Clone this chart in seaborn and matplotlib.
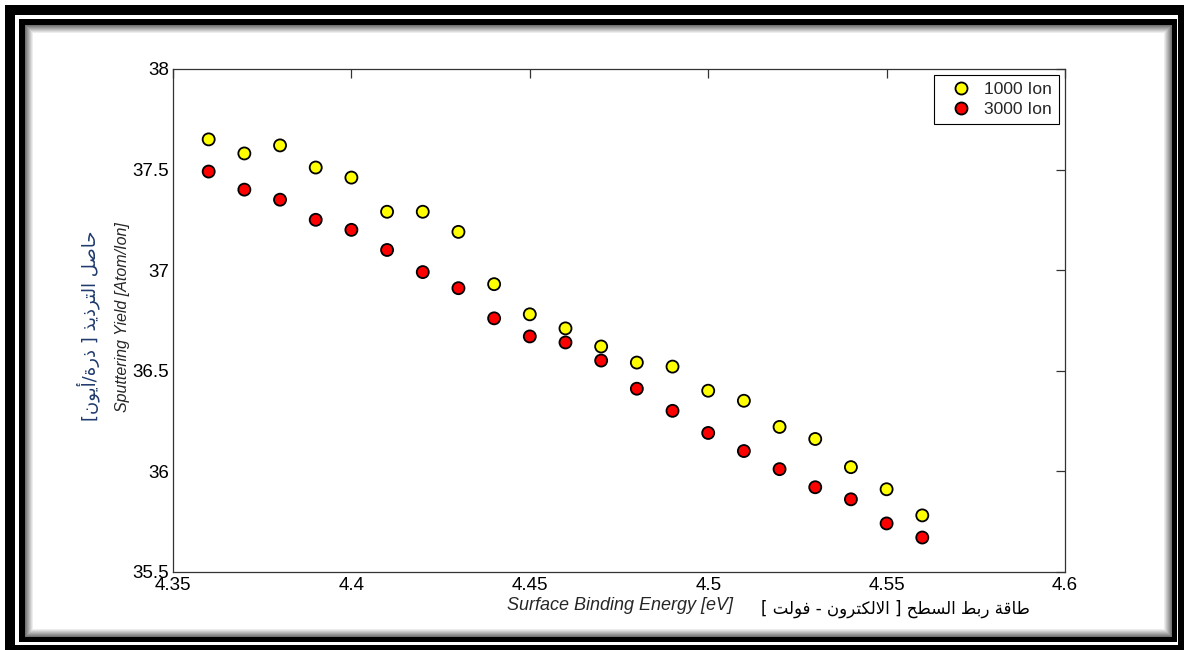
import numpy as np
import pandas as pd
import seaborn as sns
import matplotlib.pyplot as plt
from matplotlib.patches import Rectangle

# data
energy = [4.36, 4.37, 4.38, 4.39, 4.40, 4.41, 4.42, 4.43, 4.44, 4.45, 4.46,
          4.47, 4.48, 4.49, 4.50, 4.51, 4.52, 4.53, 4.54, 4.55, 4.56]
yield_1000 = [37.65, 37.58, 37.62, 37.51, 37.46, 37.29, 37.29, 37.19, 36.93, 36.78, 36.71,
              36.62, 36.54, 36.52, 36.40, 36.35, 36.22, 36.16, 36.02, 35.91, 35.78]
yield_3000 = [37.49, 37.40, 37.35, 37.25, 37.20, 37.10, 36.99, 36.91, 36.76, 36.67, 36.64,
              36.55, 36.41, 36.30, 36.19, 36.10, 36.01, 35.92, 35.86, 35.74, 35.67]
series_names = ['1000 Ion', '3000 Ion']
x_ticks = [4.35, 4.4, 4.45, 4.5, 4.55, 4.6]
x_tick_labels = ['4.35', '4.4', '4.45', '4.5', '4.55', '4.6']
y_ticks = [35.5, 36, 36.5, 37, 37.5, 38]
y_tick_labels = ['35.5', '36', '36.5', '37', '37.5', '38']

xlabel_en = 'Surface Binding Energy [eV]'
xlabel_ar = 'طاقة ربط السطح [ الالكترون - فولت ]'
ylabel_en = 'Sputtering Yield [Atom/Ion]'
ylabel_ar = 'حاصل الترذيذ [ ذرة/أيون]'

# matplotlib has no arabic shaping: pick presentation forms and put in visual order
AR_BASE = {'ا': 0xFE8D, 'أ': 0xFE83, 'ر': 0xFEAD, 'ذ': 0xFEAB, 'ة': 0xFE93, 'و': 0xFEED,
           'ح': 0xFEA1, 'ص': 0xFEB9, 'ل': 0xFEDD, 'ت': 0xFE95, 'ي': 0xFEF1, 'ن': 0xFEE5,
           'ط': 0xFEC1, 'ق': 0xFED5, 'ب': 0xFE8F, 'س': 0xFEB1, 'ك': 0xFED9, 'ف': 0xFED1}
RIGHT_ONLY = set('اأرذةو')


def arabic_visual(text):
    out = []
    prev_joins = False
    i = 0
    while i < len(text):
        c = text[i]
        if c not in AR_BASE:
            out.append(c)
            prev_joins = False
            i += 1
            continue
        nxt = text[i + 1] if i + 1 < len(text) else ''
        if c == 'ل' and nxt in ('ا', 'أ'):
            base = 0xFEFB if nxt == 'ا' else 0xFEF7
            out.append(chr(base + int(prev_joins)))
            prev_joins = False
            i += 2
            continue
        dual = c not in RIGHT_ONLY
        next_joins = dual and nxt in AR_BASE
        form = {(False, False): 0, (True, False): 1, (False, True): 2, (True, True): 3}[(prev_joins, next_joins)]
        out.append(chr(AR_BASE[c] + form))
        prev_joins = dual
        i += 1
    mirror = {'[': ']', ']': '[', '(': ')', ')': '('}
    return ''.join(mirror.get(ch, ch) for ch in reversed(out))


df = pd.DataFrame({
    'energy': energy * 2,
    'yield': yield_1000 + yield_3000,
    'series': [series_names[0]] * len(energy) + [series_names[1]] * len(energy),
})

sns.set_style('white')
plt.rcParams['font.family'] = ['Liberation Sans', 'DejaVu Sans']

W, H = 1184, 650
fig = plt.figure(figsize=(W / 100, H / 100), dpi=100)
fig.patch.set_facecolor('white')

# picture frame (pixel coordinates)
bg = fig.add_axes([0, 0, 1, 1], zorder=-5)
bg.set_xlim(0, W)
bg.set_ylim(H, 0)
bg.axis('off')
bg.add_patch(Rectangle((5, 5), W - 5, H - 5, color='black', lw=0))
bg.add_patch(Rectangle((15, 15), 1163, 630, color='white', lw=0))
bg.add_patch(Rectangle((19, 19), 1158, 623, color='black', lw=0))
for k, g in enumerate(np.linspace(0.45, 1.0, 9)):
    bg.add_patch(Rectangle((25 + k, 25 + k), 1147 - 2 * k, 612 - 2 * k, color=str(g), lw=0))

ax = fig.add_axes([173 / W, 1 - 571.7 / H, (1065 - 173) / W, (571.7 - 69) / H])
ax.set_facecolor('none')
sns.scatterplot(data=df, x='energy', y='yield', hue='series',
                palette={'1000 Ion': '#ffff00', '3000 Ion': '#ff0000'},
                s=75, edgecolor='black', linewidth=1.3, ax=ax, zorder=3)

ax.set_xlim(4.35, 4.6)
ax.set_ylim(35.5, 38)
ax.set_xticks(x_ticks)
ax.set_xticklabels(x_tick_labels)
ax.set_yticks(y_ticks)
ax.set_yticklabels(y_tick_labels)
ax.tick_params(direction='in', length=6.5, width=0.9, color='#333333', labelsize=13.5,
               top=True, right=True, labelcolor='black')
ax.tick_params(axis='y', pad=3)
ax.tick_params(axis='x', pad=4)
for sp in ax.spines.values():
    sp.set_visible(True)
    sp.set_color('#333333')
    sp.set_linewidth(0.9)
ax.set_xlabel('')
ax.set_ylabel('')

handles, labels = ax.get_legend_handles_labels()
ax.legend(handles, labels, loc='upper right',
          bbox_to_anchor=(1 - 6 / 892, 1 - 6 / 502.7), borderaxespad=0,
          fancybox=False, edgecolor='black', framealpha=1, fontsize=12.5,
          handletextpad=0.2, borderpad=0.4, labelspacing=0.3, handlelength=2.3)
ax.get_legend().get_frame().set_linewidth(0.8)


def fx(px):
    return px / W


def fy(py):
    return 1 - py / H


fig.text(fx(620), fy(606), xlabel_en, style='italic', fontsize=13, ha='center', va='center')
fig.text(fx(895), fy(609), arabic_visual(xlabel_ar), family='DejaVu Sans', fontsize=12,
         ha='center', va='center', color='black')
fig.text(fx(122), fy(317), ylabel_en, style='italic', fontsize=11.5, rotation=90,
         ha='center', va='center')
fig.text(fx(88), fy(326), arabic_visual(ylabel_ar), family='DejaVu Sans', fontsize=13,
         rotation=90, ha='center', va='center', color='#1f3a6e')

fig.savefig('out.png', dpi=100)
